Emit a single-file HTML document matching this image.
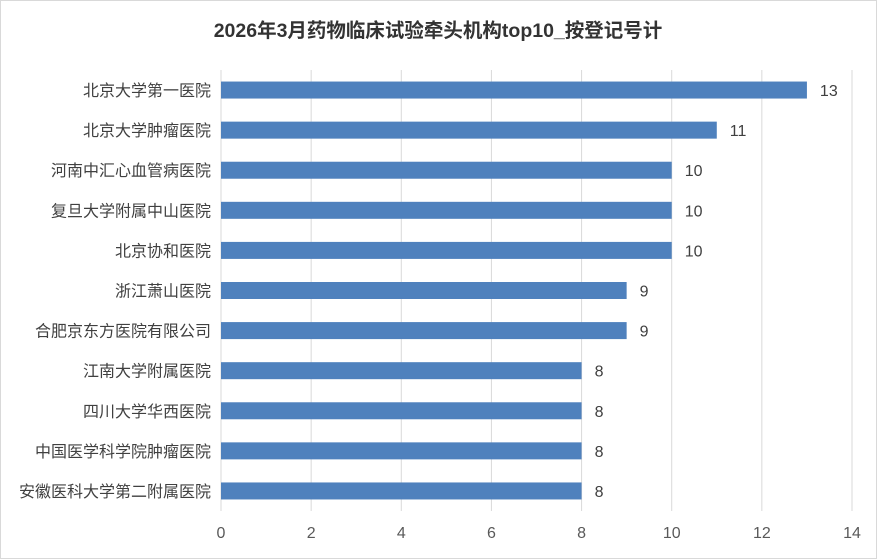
<!DOCTYPE html>
<html><head><meta charset="utf-8"><style>
body{margin:0;background:#fff}
svg{display:block;font-family:"Liberation Sans","Noto Sans CJK SC",sans-serif}
</style></head><body>
<svg id="c" width="877" height="559">
<rect x="0.5" y="0.5" width="876" height="558" fill="#fff" stroke="#d9d9d9"/>
<text x="438" y="37" text-anchor="middle" font-size="19.5" font-weight="bold" fill="#333">2026年3月药物临床试验牵头机构top10_按登记号计</text>
</svg>
<script>
const categories=["北京大学第一医院","北京大学肿瘤医院","河南中汇心血管病医院","复旦大学附属中山医院","北京协和医院","浙江萧山医院","合肥京东方医院有限公司","江南大学附属医院","四川大学华西医院","中国医学科学院肿瘤医院","安徽医科大学第二附属医院"];
const values=[13,11,10,10,10,9,9,8,8,8,8];
const ticks=[0,2,4,6,8,10,12,14];
const svg=document.getElementById('c');const NS='http://www.w3.org/2000/svg';
const x0=221,x1=852,yTop=70,yBot=511;
const xs=v=>x0+(v-0)/(14-0)*(x1-x0);
const band=(yBot-yTop)/categories.length;
const yc=i=>yTop+band*(i+0.5);
function mk(t,a){const e=document.createElementNS(NS,t);for(const k in a)e.setAttribute(k,a[k]);svg.appendChild(e);return e;}
ticks.forEach(t=>{
 if(t>0){const g=mk('line',{x1:xs(t),x2:xs(t),y1:yTop,y2:yBot,stroke:'#d9d9d9'});
 
 }
 const l=mk('text',{x:xs(t),y:538,'text-anchor':'middle','font-size':16,fill:'#595959'});l.textContent=t;
 
 
});
const ax=mk('line',{x1:x0,x2:x0,y1:yTop,y2:yBot,stroke:'#d9d9d9'});


categories.forEach((c,i)=>{
 const y=yc(i);
 const r=mk('rect',{x:x0,y:y-8.5,width:xs(values[i])-x0,height:17,fill:'#4f81bd'});
 
 
 const l=mk('text',{x:211,y:y+6,'text-anchor':'end','font-size':16,fill:'#404040'});l.textContent=c;
 
 
 const v=mk('text',{x:xs(values[i])+13,y:y+6,'font-size':16,fill:'#404040'});v.textContent=values[i];
 
 
});
</script>
</body></html>
